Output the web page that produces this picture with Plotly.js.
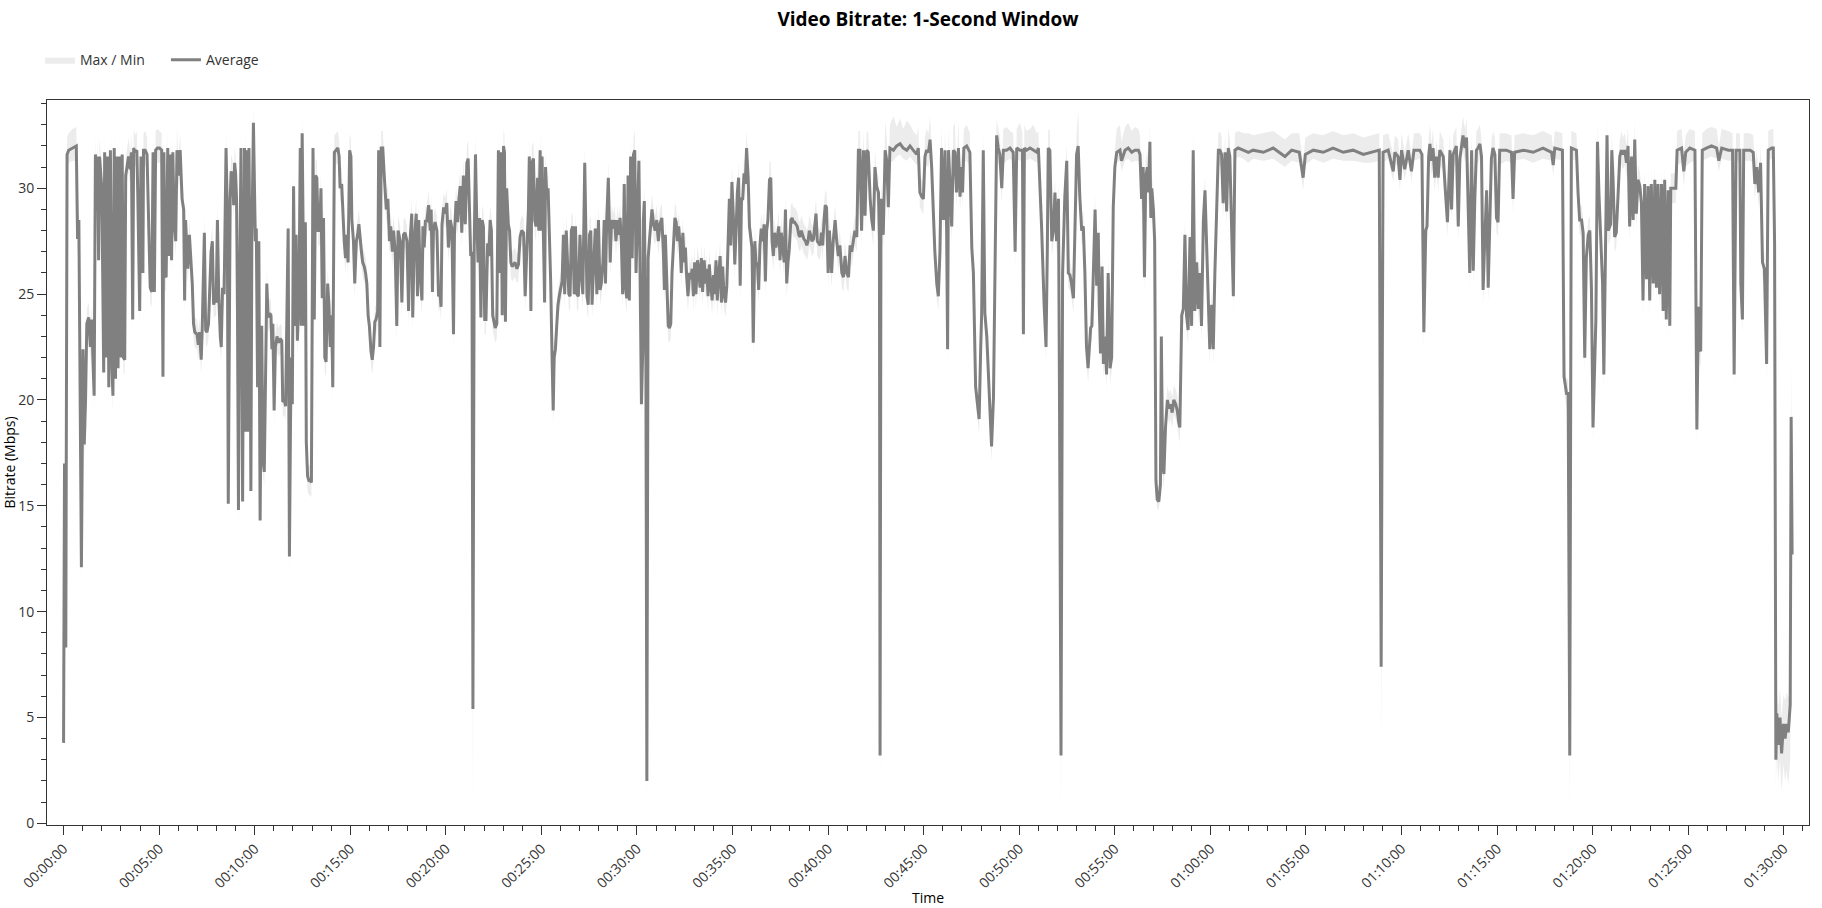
<!DOCTYPE html>
<html>
<head>
<meta charset="utf-8">
<script src="https://cdn.plot.ly/plotly-3.0.1.min.js"></script>
<style>
  html, body { margin: 0; padding: 0; background: #ffffff; }
  #chart { width: 1822px; height: 908px; }
</style>
</head>
<body>
<div id="chart"></div>
<script>
// Time of each 1-second-window sample (seconds from start)
const timeSec = [
  0,3,7,11,16,28,40,44,48,56,
  61,65,69,73,79,84,89,92,96,100,
  103,107,110,113,120,126,129,134,138,142,
  147,152,155,159,163,168,171,176,180,184,
  188,192,195,199,204,209,213,217,220,225,
  230,233,239,243,249,251,256,262,267,272,
  277,281,285,289,295,301,308,312,315,318,
  322,327,331,335,339,343,347,352,356,361,
  366,372,377,380,383,387,390,395,400,404,
  408,412,419,423,427,432,435,442,446,450,
  455,458,463,467,471,475,479,483,487,492,
  495,499,504,510,514,517,523,526,531,534,
  537,540,543,546,549,552,557,560,562,565,
  568,571,575,579,582,585,588,591,596,602,
  605,609,613,617,622,626,630,634,638,642,
  647,651,654,657,661,665,670,675,680,685,
  688,693,697,701,705,709,714,718,722,726,
  730,734,739,743,746,749,752,755,759,762,
  766,770,774,778,783,787,791,795,799,804,
  808,812,816,820,824,829,833,837,842,845,
  850,856,861,865,868,873,877,881,885,889,
  893,898,902,905,910,914,919,923,927,931,
  935,939,944,948,952,956,960,965,969,973,
  977,981,986,989,993,997,1002,1007,1013,1018,
  1023,1027,1032,1036,1041,1046,1050,1057,1062,1067,
  1072,1078,1083,1088,1093,1096,1101,1107,1111,1115,
  1119,1125,1128,1132,1136,1140,1146,1151,1154,1158,
  1161,1166,1172,1177,1182,1185,1188,1193,1198,1203,
  1208,1214,1219,1224,1227,1232,1237,1241,1245,1250,
  1255,1261,1266,1270,1274,1278,1282,1285,1289,1293,
  1297,1301,1306,1310,1314,1318,1322,1326,1331,1335,
  1339,1343,1347,1352,1355,1360,1365,1368,1373,1377,
  1381,1384,1387,1391,1396,1400,1404,1408,1412,1417,
  1423,1428,1433,1438,1444,1449,1454,1459,1462,1467,
  1470,1475,1479,1483,1488,1492,1496,1499,1502,1506,
  1510,1513,1517,1521,1525,1529,1534,1537,1540,1544,
  1548,1552,1557,1561,1565,1569,1573,1578,1582,1586,
  1590,1594,1598,1603,1607,1611,1616,1621,1626,1630,
  1636,1640,1643,1647,1651,1655,1659,1663,1669,1674,
  1679,1684,1688,1693,1697,1701,1705,1710,1716,1720,
  1726,1730,1734,1739,1743,1747,1751,1755,1760,1764,
  1768,1772,1776,1780,1785,1789,1793,1797,1801,1806,
  1810,1814,1818,1820,1823,1828,1831,1835,1839,1843,
  1847,1852,1857,1862,1867,1872,1878,1883,1886,1889,
  1893,1898,1902,1906,1910,1914,1919,1923,1927,1931,
  1935,1939,1944,1948,1952,1956,1960,1965,1969,1973,
  1977,1981,1985,1990,1994,1998,2002,2006,2011,2015,
  2019,2023,2027,2031,2036,2040,2044,2048,2052,2057,
  2061,2065,2069,2073,2078,2082,2086,2090,2094,2098,
  2103,2107,2111,2115,2119,2124,2128,2132,2136,2140,
  2144,2149,2153,2157,2161,2165,2170,2174,2178,2182,
  2186,2190,2195,2199,2203,2207,2211,2216,2220,2224,
  2228,2232,2236,2241,2245,2249,2253,2257,2262,2266,
  2270,2274,2278,2283,2287,2291,2295,2299,2303,2308,
  2312,2316,2320,2324,2329,2333,2337,2341,2345,2349,
  2354,2358,2362,2366,2370,2375,2379,2383,2387,2391,
  2395,2400,2404,2411,2416,2422,2427,2432,2437,2443,
  2448,2453,2458,2464,2469,2474,2479,2484,2490,2495,
  2500,2505,2511,2516,2521,2526,2532,2537,2542,2547,
  2552,2558,2561,2563,2566,2573,2579,2584,2589,2594,
  2605,2615,2626,2636,2647,2657,2667,2678,2683,2688,
  2694,2699,2704,2709,2715,2720,2725,2730,2735,2741,
  2746,2751,2756,2762,2767,2772,2775,2778,2783,2788,
  2793,2798,2803,2809,2814,2819,2822,2826,2835,2845,
  2851,2856,2863,2868,2874,2879,2882,2887,2892,2898,
  2903,2908,2913,2919,2924,2929,2934,2939,2945,2950,
  2960,2971,2981,2987,2992,3002,3010,3013,3016,3023,
  3034,3044,3055,3060,3065,3070,3078,3084,3088,3091,
  3096,3102,3107,3112,3117,3123,3126,3131,3136,3143,
  3149,3154,3159,3164,3170,3175,3180,3185,3190,3196,
  3201,3206,3211,3216,3220,3224,3228,3232,3238,3243,
  3248,3251,3255,3260,3264,3269,3274,3279,3285,3290,
  3295,3300,3306,3316,3321,3332,3342,3353,3363,3374,
  3379,3384,3389,3393,3397,3402,3406,3410,3413,3416,
  3421,3425,3429,3433,3438,3443,3446,3450,3454,3459,
  3465,3470,3475,3480,3485,3491,3496,3501,3504,3510,
  3515,3520,3525,3530,3536,3541,3546,3551,3557,3562,
  3567,3572,3578,3583,3588,3593,3598,3604,3609,3614,
  3619,3625,3630,3635,3640,3646,3651,3656,3661,3666,
  3672,3677,3687,3703,3719,3734,3766,3797,3834,3855,
  3879,3886,3891,3898,3923,3954,3985,4017,4048,4080,
  4106,4130,4136,4142,4158,4168,4174,4179,4189,4195,
  4200,4210,4221,4231,4239,4257,4264,4270,4276,4280,
  4285,4289,4294,4299,4304,4310,4315,4320,4331,4337,
  4344,4352,4357,4362,4372,4378,4383,4393,4399,4404,
  4409,4414,4420,4425,4430,4435,4440,4446,4451,4456,
  4461,4467,4472,4477,4482,4487,4493,4498,4503,4508,
  4529,4545,4550,4555,4582,4613,4644,4671,4676,4681,
  4705,4710,4718,4723,4728,4733,4749,4754,4759,4765,
  4770,4775,4780,4786,4791,4796,4801,4810,4815,4820,
  4824,4831,4835,4841,4845,4849,4856,4860,4864,4869,
  4874,4880,4885,4890,4895,4901,4906,4911,4916,4922,
  4927,4932,4937,4942,4948,4953,4958,4963,4969,4974,
  4979,4984,4990,4995,5000,5005,5010,5016,5021,5026,
  5031,5037,5042,5045,5061,5065,5079,5086,5092,5105,
  5121,5124,5127,5132,5136,5139,5144,5157,5173,5189,
  5196,5205,5226,5239,5244,5250,5262,5265,5270,5274,
  5294,5304,5309,5315,5321,5327,5333,5339,5346,5351,
  5362,5367,5371,5375,5378,5383,5388,5393,5399,5404,
  5409,5414,5420,5423,5426
];

// Average bitrate in each window (Mbps)
const avgMbps = [
  3.8,17.0,8.3,31.6,31.8,31.9,32.0,27.6,28.5,12.1,
  22.4,17.9,20.0,23.6,23.9,22.5,23.8,22.0,20.2,31.6,
  29.0,31.5,26.6,31.5,30.0,21.3,31.7,22.0,31.5,20.6,
  31.8,21.5,20.2,31.9,21.0,31.5,21.5,31.5,22.0,31.6,
  22.0,21.9,30.6,31.0,31.5,30.9,31.7,23.8,31.9,31.7,
  31.8,29.7,24.2,31.5,26.0,31.8,31.8,31.6,29.0,25.3,
  25.1,31.7,25.1,31.8,31.9,31.9,31.8,21.1,31.7,25.9,
  25.8,31.9,26.8,31.6,26.6,31.7,28.5,27.5,31.8,30.6,
  31.8,29.5,29.0,24.7,28.5,27.0,26.2,27.8,26.5,25.5,
  23.6,23.2,23.1,22.6,23.2,21.9,23.2,27.9,23.3,23.2,
  23.6,24.8,27.0,27.5,24.5,24.7,24.6,28.5,25.0,23.0,
  22.5,25.3,25.0,31.9,29.0,15.1,29.5,30.8,30.5,29.2,
  31.2,30.7,29.5,24.0,14.8,24.0,31.9,22.0,15.2,25.0,
  31.9,18.5,31.8,18.5,31.9,26.5,15.7,27.5,33.1,27.5,
  28.1,20.6,27.5,14.3,23.5,17.2,16.6,21.0,25.5,23.9,
  24.1,24.0,22.4,23.6,19.5,22.5,23.0,22.7,22.9,22.8,
  19.9,20.0,19.7,24.0,28.1,12.6,22.0,19.8,30.1,23.5,
  27.8,22.8,25.0,31.9,23.5,32.6,28.5,23.5,28.4,18.0,
  16.4,16.2,16.2,16.1,31.9,23.8,30.6,30.5,28.0,28.0,
  30.0,24.8,28.6,22.0,21.8,25.5,24.5,22.5,24.0,20.6,
  31.7,31.8,31.9,31.5,30.0,30.2,28.5,27.5,26.7,27.8,
  26.5,31.8,31.5,28.5,27.5,25.5,27.5,27.8,28.3,27.5,
  27.0,26.5,26.3,26.0,25.5,24.0,23.5,22.3,21.9,22.5,
  23.7,23.8,24.2,31.8,22.5,31.9,31.9,30.5,29.0,29.5,
  27.5,28.2,27.0,28.0,27.0,23.5,28.0,27.5,24.6,27.8,
  27.9,27.5,24.2,27.6,28.8,23.9,27.5,28.8,24.9,28.5,
  26.0,24.7,28.2,27.2,28.5,28.4,29.2,28.0,29.0,25.1,
  28.0,28.4,28.0,24.9,25.0,24.4,28.3,29.1,28.8,29.3,
  27.2,28.5,28.1,23.1,27.8,29.4,28.4,29.5,30.1,27.9,
  30.6,28.3,31.2,31.4,28.4,26.8,27.0,5.4,27.2,31.6,
  28.5,26.5,28.6,23.9,28.5,28.2,23.8,23.8,27.4,26.8,
  28.5,28.0,24.0,23.5,23.4,23.6,31.8,26.0,31.7,24.0,
  32.0,31.7,23.7,30.0,28.3,28.0,26.5,26.3,26.4,26.5,
  26.2,26.4,27.7,28.0,27.9,24.9,27.0,28.9,31.5,24.2,
  31.2,31.4,28.5,28.2,30.5,28.0,31.8,28.0,31.5,27.4,
  24.6,31.0,29.5,30.0,28.2,25.6,21.6,19.5,22.0,22.4,
  23.5,24.5,25.0,25.4,25.6,27.8,25.0,28.0,26.5,25.0,
  24.9,28.0,28.2,25.0,28.2,25.0,24.9,27.8,25.8,25.0,
  31.2,26.1,24.9,24.5,27.8,28.0,24.5,26.0,28.1,25.0,
  28.5,25.2,25.5,26.5,28.5,25.5,28.5,30.5,26.5,28.5,
  28.1,28.5,27.5,28.5,27.8,28.6,27.5,25.0,30.2,25.3,
  24.8,30.6,24.7,31.5,26.7,31.6,31.8,26.0,28.5,31.3,
  25.5,19.8,22.3,28.5,29.4,21.6,2.0,26.7,27.5,28.5,
  29.0,28.3,28.0,28.5,27.5,28.3,28.6,26.9,25.2,27.8,
  25.5,23.5,23.4,23.6,26.0,27.5,28.6,28.4,27.5,28.2,
  27.4,26.0,27.9,26.5,27.2,25.8,24.9,26.0,25.7,26.2,
  24.9,26.5,25.0,26.6,26.1,25.3,26.7,25.1,26.6,25.5,
  26.2,24.9,26.4,25.5,24.7,25.9,25.0,26.6,24.7,26.0,
  26.8,24.6,26.3,25.0,24.6,25.4,28.0,29.5,27.3,30.3,
  28.5,26.4,28.0,29.8,30.5,25.4,29.5,29.5,30.7,30.2,
  31.9,30.5,28.2,27.5,27.2,22.7,27.5,26.3,26.5,25.2,
  27.3,28.1,27.5,28.3,25.6,28.0,28.5,30.4,30.5,27.5,
  26.8,27.9,27.2,27.7,28.2,26.6,27.9,27.3,26.5,29.0,
  25.5,26.5,27.1,28.5,28.6,28.4,28.4,28.3,28.2,27.8,
  27.7,28.0,27.8,27.6,27.5,27.3,27.5,28.0,27.8,27.5,
  27.6,28.1,28.8,27.5,27.4,27.3,27.9,27.3,28.5,29.2,
  29.1,26.0,28.0,26.0,27.5,28.5,27.5,26.8,27.3,26.0,
  25.8,26.8,26.0,25.8,27.3,27.0,27.5,28.0,27.7,31.8,
  31.8,28.0,31.8,28.7,31.8,31.7,29.5,28.5,28.0,31.0,
  30.1,29.8,27.5,3.2,29.5,27.8,31.8,31.3,29.1,31.9,
  31.8,32.0,32.1,31.9,31.8,32.0,31.8,31.6,31.9,29.8,
  29.6,29.5,31.5,31.8,31.7,32.3,31.0,28.5,27.0,25.5,
  24.9,27.0,31.9,28.5,31.8,28.0,22.4,31.8,30.0,28.2,
  31.8,31.7,29.8,31.9,29.6,31.0,29.8,31.9,32.0,31.7,
  27.2,26.0,20.6,19.8,19.1,22.5,24.1,31.8,24.1,23.0,
  21.2,19.0,17.8,20.1,28.0,32.5,31.9,31.6,30.0,31.8,
  31.8,31.9,31.7,27.0,31.9,31.8,31.8,23.1,31.9,31.8,
  31.9,31.8,31.7,31.9,29.5,28.2,24.5,22.5,27.0,31.9,
  31.8,27.5,28.0,29.8,27.5,29.5,20.9,3.2,26.0,29.6,
  31.3,26.0,25.9,25.5,24.8,28.5,31.6,32.0,29.6,28.0,
  28.2,26.0,22.5,21.5,22.3,23.4,23.5,25.5,29.0,25.4,
  27.9,24.5,22.2,26.3,21.7,23.0,21.2,26.0,21.5,22.0,
  29.1,31.0,31.7,31.8,31.3,31.8,31.9,31.7,31.8,31.8,
  31.6,29.5,31.0,25.8,30.5,31.0,29.8,32.2,28.6,30.0,
  29.0,27.5,16.2,15.3,15.2,16.0,23.0,17.0,16.5,18.7,
  20.0,19.6,19.8,19.4,20.0,19.8,19.5,18.9,18.7,24.0,
  24.3,27.8,24.0,23.3,27.7,23.5,31.8,24.2,26.5,24.3,
  26.0,23.5,28.5,29.9,27.7,25.0,22.4,24.5,22.4,26.0,
  28.8,31.8,31.8,31.6,29.3,31.7,28.9,31.9,31.5,28.0,
  24.9,31.8,31.9,31.8,31.7,31.8,31.7,31.9,31.5,31.8,
  31.7,31.0,30.5,31.6,31.8,31.7,31.9,31.7,31.8,31.6,
  31.7,31.8,7.4,31.7,31.8,31.2,30.8,31.7,31.5,30.4,
  31.8,30.9,31.8,30.8,31.8,31.8,31.6,23.2,28.0,28.2,
  31.5,32.1,31.3,31.9,30.5,31.5,30.5,31.8,31.5,30.0,
  28.4,31.8,29.0,31.6,32.0,28.2,31.4,32.5,31.9,32.4,
  29.6,26.0,31.8,26.1,29.5,31.8,31.9,32.1,31.5,25.2,
  27.5,29.9,25.3,28.6,31.4,31.9,31.6,28.6,28.4,31.8,
  31.8,31.7,29.5,31.7,31.8,31.7,31.9,31.7,31.1,31.9,
  31.8,21.1,20.3,20.3,3.2,31.9,31.8,29.8,28.5,28.5,
  27.9,22.0,26.7,27.8,28.0,25.3,18.7,23.8,32.2,29.6,
  27.9,25.5,21.2,28.0,32.5,28.0,28.3,31.8,30.4,27.7,
  27.9,29.8,31.5,31.8,31.6,31.8,31.2,32.0,28.2,31.5,
  28.5,32.3,28.8,30.4,30.1,29.3,24.7,30.2,25.7,30.1,
  24.7,30.2,25.5,30.4,25.3,30.2,25.0,30.2,24.2,30.4,
  23.8,29.9,23.5,30.0,30.0,31.8,31.9,30.8,31.7,31.9,
  31.8,25.0,18.6,24.4,22.4,22.3,31.8,31.9,32.0,31.9,
  31.3,31.9,31.8,31.8,21.2,31.8,31.8,25.5,23.8,31.8,
  31.8,31.7,30.2,31.0,29.8,31.2,26.5,26.2,21.7,31.8,
  31.9,31.9,27.4,3.0,5.2,3.7,5.0,3.3,4.7,4.0,
  4.7,4.3,5.6,19.2,12.7
];

// Maximum bitrate within each window (Mbps)
const maxMbps = [
  4.3,17.7,9.1,32.4,32.6,32.8,32.9,28.4,29.2,12.9,
  23.1,18.6,20.7,24.3,24.6,23.2,24.5,22.7,20.9,32.5,
  29.8,32.3,27.3,32.4,30.8,22.0,32.6,22.7,32.3,21.3,
  32.7,22.2,20.9,32.8,21.7,32.4,22.2,32.3,22.7,32.4,
  22.7,22.6,31.4,31.8,32.4,31.7,32.6,24.5,32.8,32.5,
  32.7,30.4,24.9,32.3,26.7,32.6,32.7,32.4,29.7,26.0,
  25.8,32.5,25.8,32.7,32.8,32.7,32.6,21.8,32.5,26.6,
  26.5,32.7,27.5,32.4,27.3,32.5,29.2,28.2,32.9,31.4,
  32.6,30.3,29.7,25.4,29.2,27.7,26.9,28.5,27.2,26.2,
  24.3,23.9,23.8,23.3,23.9,22.6,23.9,28.6,24.0,23.9,
  24.3,25.5,27.7,28.2,25.2,25.4,25.3,29.2,25.7,23.7,
  23.2,26.0,25.7,32.8,29.7,15.8,30.2,31.6,31.3,29.9,
  32.0,31.5,30.2,24.7,15.5,24.7,32.7,22.7,15.9,25.7,
  32.7,19.2,32.6,19.2,32.7,27.2,16.4,28.2,33.9,28.2,
  28.8,21.3,28.2,15.0,24.2,17.9,17.3,21.7,26.2,24.6,
  24.8,24.7,23.1,24.3,20.2,23.2,23.7,23.4,23.6,23.5,
  20.6,20.7,20.4,24.7,28.8,13.3,22.7,20.5,30.9,24.2,
  28.5,23.5,25.7,32.7,24.2,33.5,29.2,24.2,29.1,18.7,
  17.1,16.9,16.9,16.8,32.7,24.5,31.4,31.3,28.7,28.7,
  30.8,25.5,29.3,22.7,22.5,26.2,25.2,23.2,24.7,21.3,
  32.5,32.6,32.7,32.3,30.8,31.0,29.2,28.2,27.4,28.5,
  27.2,32.6,32.3,29.2,28.2,26.2,28.2,28.5,29.0,28.2,
  27.7,27.2,27.0,26.7,26.2,24.7,24.2,23.0,22.6,23.2,
  24.4,24.5,24.9,32.6,23.2,32.7,32.7,31.3,29.7,30.2,
  28.2,28.9,27.7,28.7,27.7,24.2,28.7,28.2,25.3,28.5,
  28.6,28.2,24.9,28.3,29.5,24.6,28.2,29.5,25.6,29.2,
  26.7,25.4,28.9,27.9,29.2,29.1,29.9,28.7,29.7,25.8,
  28.7,29.1,28.7,25.6,25.7,25.1,29.0,29.8,29.5,30.0,
  27.9,29.2,28.8,23.8,28.5,30.1,29.1,30.2,30.9,28.6,
  31.4,29.0,32.0,32.3,29.1,27.5,27.7,6.2,27.9,32.4,
  29.2,27.2,29.3,24.6,29.2,28.9,24.5,24.5,28.1,27.5,
  29.2,28.7,24.7,24.2,24.1,24.3,32.6,26.7,32.5,24.7,
  32.8,32.5,24.4,30.8,29.0,28.7,27.2,27.0,27.1,27.2,
  26.9,27.1,28.4,28.7,28.6,25.6,27.7,29.6,32.3,24.9,
  32.0,32.2,29.2,28.9,31.3,28.7,32.6,28.7,32.3,28.1,
  25.3,31.8,30.2,30.8,28.9,26.3,22.3,20.2,22.7,23.1,
  24.2,25.2,25.7,26.1,26.3,28.5,25.7,28.7,27.2,25.7,
  25.6,28.7,28.9,25.7,28.9,25.7,25.6,28.5,26.5,25.7,
  32.0,26.8,25.6,25.2,28.5,28.7,25.2,26.7,28.8,25.7,
  29.2,25.9,26.2,27.2,29.2,26.2,29.2,31.3,27.2,29.2,
  28.8,29.2,28.2,29.2,28.5,29.3,28.2,25.7,31.0,26.0,
  25.5,31.4,25.4,32.3,27.4,32.4,32.8,26.7,29.2,32.1,
  26.2,20.5,23.0,29.2,30.1,22.3,2.8,27.4,28.2,29.2,
  29.7,29.0,28.7,29.2,28.2,29.0,29.3,27.6,25.9,28.5,
  26.2,24.2,24.1,24.3,26.7,28.2,29.3,29.1,28.2,28.9,
  28.1,26.7,28.6,27.2,27.9,26.5,25.6,26.7,26.4,26.9,
  25.6,27.2,25.7,27.3,26.8,26.0,27.4,25.8,27.3,26.2,
  26.9,25.6,27.1,26.2,25.4,26.6,25.7,27.3,25.4,26.7,
  27.5,25.3,27.0,25.7,25.3,26.1,28.7,30.2,28.0,31.1,
  29.2,27.1,28.7,30.5,31.3,26.1,30.2,30.2,31.5,31.0,
  32.7,31.3,28.9,28.2,27.9,23.4,28.2,27.0,27.2,25.9,
  28.0,28.8,28.2,29.0,26.3,28.7,29.2,31.2,31.3,28.2,
  27.5,28.6,27.9,28.4,28.9,27.3,28.6,28.0,27.2,29.7,
  26.2,27.2,27.8,29.2,29.3,29.1,29.1,29.0,28.9,28.5,
  28.4,28.7,28.5,28.3,28.2,28.0,28.2,28.7,28.5,28.2,
  28.3,28.8,29.5,28.2,28.1,28.0,28.6,28.0,29.2,29.9,
  29.8,26.7,28.7,26.7,28.2,29.2,28.2,27.5,28.0,26.7,
  26.5,27.5,26.7,26.5,28.0,27.7,28.2,28.7,28.4,32.7,
  32.7,28.7,32.7,29.4,32.7,32.6,30.2,29.2,28.7,31.8,
  30.9,30.5,28.2,4.0,30.2,28.5,33.2,32.3,29.8,33.0,
  33.4,32.9,33.3,32.8,33.2,33.0,32.7,32.5,32.9,30.6,
  30.4,30.3,32.4,32.8,32.6,33.4,31.8,29.2,27.7,26.2,
  25.6,27.7,32.9,29.2,32.8,28.7,23.1,32.9,30.8,28.9,
  32.9,33.1,30.6,33.2,30.4,31.8,30.6,32.8,33.0,32.6,
  27.9,26.7,21.3,20.5,19.8,23.2,24.8,32.7,24.8,23.7,
  21.9,19.7,18.5,20.8,28.7,33.3,32.8,32.5,30.8,32.8,
  32.9,32.7,32.6,27.7,32.8,33.1,32.6,23.8,33.0,32.7,
  32.8,33.0,32.6,32.7,30.2,28.9,25.2,23.2,27.7,32.8,
  32.7,28.2,28.7,30.5,28.2,30.2,21.6,4.0,26.7,30.3,
  32.1,26.7,26.6,26.2,25.5,29.2,32.6,33.7,30.3,28.7,
  28.9,26.7,23.2,22.2,23.0,24.1,24.2,26.2,29.7,26.1,
  28.6,25.2,22.9,27.0,22.4,23.7,21.9,26.7,22.2,22.7,
  29.8,31.8,32.8,33.0,32.2,32.9,33.1,32.7,32.9,32.8,
  32.5,30.2,31.8,26.5,31.3,31.8,30.5,33.1,29.3,30.7,
  29.7,28.2,16.9,16.0,15.9,16.7,23.7,17.7,17.2,19.4,
  20.7,20.3,20.5,20.1,20.7,20.5,20.2,19.6,19.4,24.7,
  25.0,28.5,24.7,24.0,28.4,24.2,32.6,24.9,27.2,25.0,
  26.7,24.2,29.2,30.6,28.4,25.7,23.1,25.2,23.1,26.7,
  29.5,32.6,32.7,32.4,30.0,32.6,29.6,32.8,32.3,28.7,
  25.6,32.6,32.7,32.6,32.6,32.5,32.6,32.7,32.3,32.6,
  32.6,31.7,31.2,32.4,32.6,32.5,32.7,32.5,32.6,32.4,
  32.5,32.6,8.2,32.5,32.6,32.0,31.6,32.5,32.3,31.2,
  32.6,31.7,32.6,31.6,32.6,32.6,32.4,23.9,28.7,28.9,
  32.3,33.0,32.1,32.8,31.3,32.3,31.3,32.7,32.3,30.8,
  29.1,32.7,29.7,32.5,32.9,28.9,32.2,33.4,32.8,33.3,
  30.3,26.7,32.7,26.8,30.2,32.7,32.8,33.0,32.3,25.9,
  28.2,30.6,26.0,29.3,32.2,32.7,32.4,29.3,29.1,32.6,
  32.6,32.5,30.2,32.5,32.6,32.5,32.7,32.5,31.8,32.7,
  32.6,21.8,21.0,21.0,4.0,32.7,32.6,30.5,29.2,29.2,
  28.6,22.7,27.4,28.5,28.7,26.0,19.4,24.5,33.1,30.3,
  28.6,26.2,21.9,28.7,33.4,28.7,29.0,32.7,31.1,28.4,
  28.6,30.5,32.3,32.7,32.4,32.6,32.0,32.9,28.9,32.3,
  29.2,33.2,29.5,31.1,30.8,30.0,25.4,30.9,26.4,30.8,
  25.4,30.9,26.2,31.1,26.0,30.9,25.7,30.9,24.9,31.1,
  24.5,30.6,24.2,30.7,30.7,32.7,32.8,31.6,32.5,32.8,
  32.7,25.7,19.3,25.1,23.1,23.0,32.6,32.8,32.9,32.8,
  32.0,32.8,32.7,32.6,21.9,32.6,32.6,26.2,24.5,32.6,
  32.6,32.5,30.9,31.8,30.5,32.0,27.2,26.9,22.4,32.7,
  32.8,32.8,28.1,4.5,6.2,5.5,6.4,5.0,6.1,5.8,
  6.2,5.9,6.3,21.9,13.5
];

// Minimum bitrate within each window (Mbps)
const minMbps = [
  3.5,16.3,7.1,30.9,31.2,31.3,31.3,26.9,27.8,11.3,
  21.7,17.1,19.3,22.9,23.2,21.8,23.1,21.3,19.5,30.9,
  28.3,30.8,25.9,30.8,29.3,20.6,31.0,21.3,30.8,19.9,
  31.1,20.8,19.4,31.2,20.3,30.8,20.8,30.8,21.3,30.9,
  21.3,21.2,29.9,30.3,30.8,30.2,31.0,23.1,31.2,31.0,
  31.1,29.0,23.5,30.8,25.3,31.1,31.1,30.9,28.3,24.6,
  24.4,31.0,24.4,31.1,31.2,31.2,31.1,20.4,31.0,25.2,
  25.1,31.2,26.1,30.9,25.9,31.0,27.8,26.8,31.1,29.9,
  31.1,28.8,28.3,24.0,27.8,26.3,25.5,27.1,25.8,24.8,
  22.9,22.5,22.4,21.9,22.5,21.2,22.5,27.2,22.6,22.5,
  22.9,24.1,26.3,26.8,23.8,24.0,23.9,27.8,24.3,22.3,
  21.8,24.6,24.3,31.2,28.3,14.4,28.8,30.1,29.8,28.5,
  30.5,30.0,28.8,23.3,14.0,23.3,31.2,21.3,14.5,24.3,
  31.2,17.8,31.1,17.8,31.2,25.8,15.0,26.8,32.4,26.8,
  27.4,19.9,26.8,13.6,22.8,16.5,15.9,20.3,24.8,23.2,
  23.4,23.3,21.7,22.9,18.8,21.8,22.3,22.0,22.2,22.1,
  19.2,19.3,19.0,23.3,27.4,11.7,21.3,19.1,29.4,22.8,
  27.1,22.1,24.3,31.2,22.8,31.9,27.8,22.8,27.7,17.3,
  15.7,15.5,15.5,15.4,31.2,23.1,29.9,29.8,27.3,27.3,
  29.3,24.1,27.9,21.3,21.1,24.8,23.8,21.8,23.3,19.9,
  31.0,31.1,31.2,30.8,29.3,29.5,27.8,26.8,26.0,27.1,
  25.8,31.1,30.8,27.8,26.8,24.8,26.8,27.1,27.6,26.8,
  26.3,25.8,25.6,25.3,24.8,23.3,22.8,21.6,21.2,21.8,
  23.0,23.1,23.5,31.1,21.8,31.2,31.2,29.8,28.3,28.8,
  26.8,27.5,26.3,27.3,26.3,22.8,27.3,26.8,23.9,27.1,
  27.2,26.8,23.5,26.9,28.1,23.2,26.8,28.1,24.2,27.8,
  25.3,24.0,27.5,26.5,27.8,27.7,28.5,27.3,28.3,24.4,
  27.3,27.7,27.3,24.2,24.3,23.7,27.6,28.4,28.1,28.6,
  26.5,27.8,27.4,22.4,27.1,28.7,27.7,28.8,29.4,27.2,
  29.9,27.6,30.5,30.7,27.7,26.1,26.3,0.4,26.5,30.9,
  27.8,25.8,27.9,23.2,27.8,27.5,23.1,23.1,26.7,26.1,
  27.8,27.3,23.3,22.8,22.7,22.9,31.1,25.3,31.0,23.3,
  31.3,31.0,23.0,29.3,27.6,27.3,25.8,25.6,25.7,25.8,
  25.5,25.7,27.0,27.3,27.2,24.2,26.3,28.2,30.8,23.5,
  30.5,30.7,27.8,27.5,29.8,27.3,31.1,27.3,30.8,26.7,
  23.9,30.3,28.8,29.3,27.5,24.9,20.9,18.8,21.3,21.7,
  22.8,23.8,24.3,24.7,24.9,27.1,24.3,27.3,25.8,24.3,
  24.2,27.3,27.5,24.3,27.5,24.3,24.2,27.1,25.1,24.3,
  30.5,25.4,24.2,23.8,27.1,27.3,23.8,25.3,27.4,24.3,
  27.8,24.5,24.8,25.8,27.8,24.8,27.8,29.8,25.8,27.8,
  27.4,27.8,26.8,27.8,27.1,27.9,26.8,24.3,29.5,24.6,
  24.1,29.9,24.0,30.8,26.0,30.9,31.1,25.3,27.8,30.6,
  24.8,19.1,21.6,27.8,28.7,20.9,0.3,26.0,26.8,27.8,
  28.3,27.6,27.3,27.8,26.8,27.6,27.9,26.2,24.5,27.1,
  24.8,22.8,22.7,22.9,25.3,26.8,27.9,27.7,26.8,27.5,
  26.7,25.3,27.2,25.8,26.5,25.1,24.2,25.3,25.0,25.5,
  24.2,25.8,24.3,25.9,25.4,24.6,26.0,24.4,25.9,24.8,
  25.5,24.2,25.7,24.8,24.0,25.2,24.3,25.9,24.0,25.3,
  26.1,23.9,25.6,24.3,23.9,24.7,27.3,28.8,26.6,29.6,
  27.8,25.7,27.3,29.1,29.8,24.7,28.8,28.8,30.0,29.5,
  31.2,29.8,27.5,26.8,26.5,22.0,26.8,25.6,25.8,24.5,
  26.6,27.4,26.8,27.6,24.9,27.3,27.8,29.7,29.8,26.8,
  26.1,27.2,26.5,27.0,27.5,25.9,27.2,26.6,25.8,28.3,
  24.8,25.8,26.4,27.8,27.9,27.7,27.7,27.6,27.5,27.1,
  27.0,27.3,27.1,26.9,26.8,26.6,26.8,27.3,27.1,26.8,
  26.9,27.4,28.1,26.8,26.7,26.6,27.2,26.6,27.8,28.5,
  28.4,25.3,27.3,25.3,26.8,27.8,26.8,26.1,26.6,25.3,
  25.1,26.1,25.3,25.1,26.6,26.3,26.8,27.3,27.0,31.1,
  31.1,27.3,31.1,28.0,31.1,31.0,28.8,27.8,27.3,30.3,
  29.4,29.1,26.8,1.0,28.8,27.1,31.1,30.6,28.4,31.2,
  31.3,31.5,31.6,31.4,31.3,31.5,31.3,31.1,31.4,29.1,
  28.9,28.8,30.8,31.1,31.0,31.6,30.3,27.8,26.3,24.8,
  24.2,26.3,31.2,27.8,31.1,27.3,21.7,31.1,29.3,27.5,
  31.1,31.0,29.1,31.2,28.9,30.3,29.1,31.2,31.3,31.0,
  26.5,25.3,19.9,19.1,18.4,21.8,23.4,31.1,23.4,22.3,
  20.5,18.3,17.1,19.4,27.3,31.8,31.2,30.9,29.3,31.1,
  31.3,31.4,31.2,26.3,31.4,31.3,31.3,22.4,31.4,31.3,
  31.4,31.3,31.2,31.4,28.8,27.5,23.8,21.8,26.3,31.4,
  31.1,26.8,27.3,29.1,26.8,28.8,20.2,0.3,25.3,28.9,
  30.6,25.3,25.2,24.8,24.1,27.8,30.9,31.3,28.9,27.3,
  27.5,25.3,21.8,20.8,21.6,22.7,22.8,24.8,28.3,24.7,
  27.2,23.8,21.5,25.6,21.0,22.3,20.5,25.3,20.8,21.3,
  28.4,30.3,31.2,31.3,30.8,31.3,31.4,31.2,31.3,31.3,
  30.9,28.8,30.3,25.1,29.8,30.3,29.1,31.5,27.9,29.3,
  28.3,26.8,15.5,14.8,14.9,15.3,22.3,16.3,15.8,18.0,
  19.3,18.9,19.1,18.7,19.3,19.1,18.8,18.2,18.0,23.3,
  23.6,27.1,23.3,22.6,27.0,22.8,31.1,23.5,25.8,23.6,
  25.3,22.8,27.8,29.2,27.0,24.3,21.7,23.8,21.7,25.3,
  28.1,31.1,31.1,30.9,28.6,31.0,28.2,31.2,30.8,27.3,
  24.2,31.3,31.5,31.4,31.2,31.4,31.3,31.4,31.0,31.3,
  31.2,30.5,29.9,31.1,31.4,31.2,31.4,31.3,31.3,31.2,
  31.2,31.3,3.5,31.2,31.4,30.7,30.3,31.2,31.0,29.9,
  31.3,30.4,31.4,30.3,31.3,31.4,31.1,22.5,27.3,27.5,
  30.8,31.4,30.6,31.2,29.8,30.8,29.8,31.1,30.8,29.3,
  27.7,31.1,28.3,30.9,31.3,27.5,30.7,31.8,31.2,31.7,
  28.9,25.3,31.1,25.4,28.8,31.1,31.2,31.4,30.8,24.5,
  26.8,29.2,24.6,27.9,30.7,31.2,30.9,27.9,27.7,31.1,
  31.3,31.2,28.8,31.3,31.4,31.2,31.4,31.3,30.6,31.4,
  31.3,20.4,19.6,19.6,0.3,31.4,31.3,29.1,27.8,27.8,
  27.2,21.3,26.0,27.1,27.3,24.6,18.0,23.1,31.5,28.9,
  27.2,24.8,20.5,27.3,31.8,27.3,27.6,31.1,29.7,27.0,
  27.2,29.1,30.8,31.1,30.9,31.1,30.5,31.3,27.5,30.8,
  27.8,31.6,28.1,29.7,29.4,28.6,24.0,29.5,25.0,29.4,
  24.0,29.5,24.8,29.7,24.6,29.5,24.3,29.5,23.5,29.7,
  23.1,29.2,22.8,29.3,29.3,31.1,31.2,30.1,31.0,31.2,
  31.3,24.3,17.9,23.7,21.7,21.6,31.3,31.4,31.5,31.4,
  30.8,31.4,31.3,31.3,20.5,31.3,31.3,24.8,23.1,31.3,
  31.3,31.2,29.5,30.3,29.1,30.5,25.8,25.5,21.0,31.3,
  31.4,31.4,26.7,1.8,3.3,2.0,3.0,1.5,2.8,2.0,
  2.5,1.8,3.0,17.5,11.8
];

// Axis tick positions (seconds) and their labels
const tickSeconds = [0,300,600,900,1200,1500,1800,2100,2400,2700,3000,3300,3600,3900,4200,4500,4800,5100,5400];
const tickLabels = ['00:00:00','00:05:00','00:10:00','00:15:00','00:20:00','00:25:00','00:30:00','00:35:00','00:40:00','00:45:00','00:50:00','00:55:00','01:00:00','01:05:00','01:10:00','01:15:00','01:20:00','01:25:00','01:30:00'];
const xAxisTitle = 'Time';

const FONT = '"Open Sans", "Noto Sans", sans-serif';
const AXIS = '#333333';

const traces = [
  {
    x: timeSec, y: maxMbps, type: 'scatter', mode: 'lines',
    line: { width: 0, color: '#ececec' }, showlegend: false, hoverinfo: 'skip'
  },
  {
    x: timeSec, y: minMbps, type: 'scatter', mode: 'lines',
    name: 'Max / Min', fill: 'tonexty', fillcolor: '#ececec',
    line: { width: 0, color: '#ececec' }, hoverinfo: 'skip'
  },
  {
    x: timeSec, y: avgMbps, type: 'scatter', mode: 'lines',
    name: 'Average', line: { width: 3, color: '#808080' }
  }
];

const layout = {
  width: 1822, height: 908,
  paper_bgcolor: '#ffffff', plot_bgcolor: '#ffffff',
  margin: { l: 47, r: 13, t: 100, b: 83 },
  font: { family: FONT, size: 14, color: AXIS },
  title: {
    text: '<b>Video Bitrate: 1-Second Window</b>',
    font: { family: FONT, size: 19, color: '#000000' },
    x: 0.5, xref: 'paper', y: 1 - 19 / 908, yref: 'container', yanchor: 'middle'
  },
  showlegend: true,
  legend: {
    orientation: 'h', x: -0.004, xanchor: 'left', y: 1.055, yanchor: 'middle',
    font: { family: FONT, size: 14, color: AXIS },
    itemwidth: 30, entrywidth: 81, traceorder: 'normal', bgcolor: 'rgba(0,0,0,0)'
  },
  annotations: [
    {
      text: xAxisTitle, xref: 'paper', yref: 'paper', x: 0.5, y: -72 / 725,
      xanchor: 'center', yanchor: 'middle', showarrow: false,
      font: { family: FONT, size: 14, color: '#000000' }
    }
  ],
  xaxis: {
    type: 'linear', range: [-52, 5479],
    tickmode: 'array', tickvals: tickSeconds, ticktext: tickLabels,
    tickangle: -45, ticks: 'outside', ticklen: 9, tickwidth: 1, tickcolor: AXIS,
    tickfont: { family: FONT, size: 14, color: AXIS },
    minor: { tickmode: 'linear', tick0: 0, dtick: 60, ticks: 'outside', ticklen: 5, tickwidth: 1, tickcolor: AXIS, showgrid: false },
    showline: true, linecolor: AXIS, linewidth: 1, mirror: true,
    showgrid: false, zeroline: false
  },
  yaxis: {
    range: [-0.08, 34.17], tickmode: 'linear', tick0: 0, dtick: 5,
    ticks: 'outside', ticklen: 9, tickwidth: 1, tickcolor: AXIS,
    tickfont: { family: FONT, size: 14, color: AXIS },
    minor: { tickmode: 'linear', tick0: 0, dtick: 1, ticks: 'outside', ticklen: 5, tickwidth: 1, tickcolor: AXIS, showgrid: false },
    showline: true, linecolor: AXIS, linewidth: 1, mirror: true,
    showgrid: false, zeroline: false,
    title: { text: 'Bitrate (Mbps)', font: { family: FONT, size: 14, color: '#000000' }, standoff: 2 }
  }
};

Plotly.newPlot('chart', traces, layout, { displayModeBar: false, staticPlot: true });
</script>
</body>
</html>
